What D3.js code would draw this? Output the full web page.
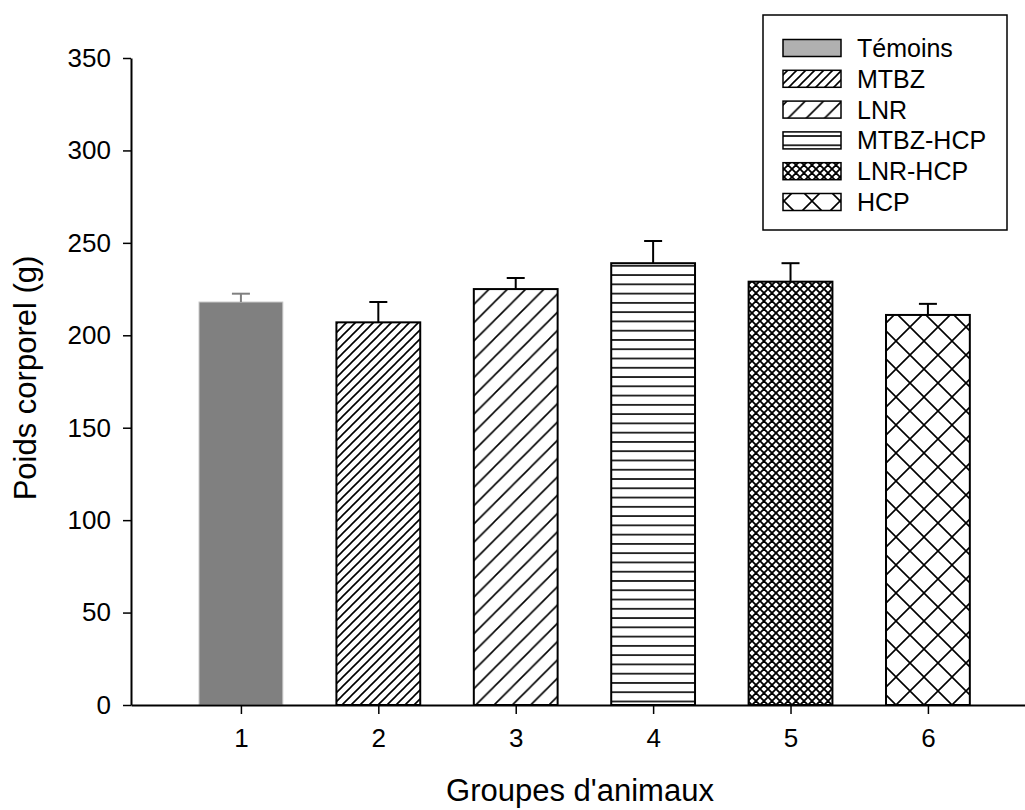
<!DOCTYPE html>
<html>
<head>
<meta charset="utf-8">
<script src="https://cdn.jsdelivr.net/npm/d3@7"></script>
<style>
  html, body { margin: 0; padding: 0; background: #fff; }
  svg { display: block; font-family: Arial, "Liberation Sans", sans-serif; }
</style>
</head>
<body>
<svg id="chart" width="1025" height="810"></svg>
<script>
// Body weight per animal group (mean and upper error)
const groups = [1, 2, 3, 4, 5, 6];
const groupNames = ["Témoins", "MTBZ", "LNR", "MTBZ-HCP", "LNR-HCP", "HCP"];
const meanWeight = [218, 207, 225, 239, 229, 211];
const errWeight = [4.5, 11, 6, 12, 10, 6];
const yTicks = [0, 50, 100, 150, 200, 250, 300, 350];

const svg = d3.select("#chart");

const x = d3.scaleLinear().domain([0.2, 6.8]).range([131, 131 + 6.6 * 137.4]);
const y = d3.scaleLinear().domain([0, 350]).range([705, 58]);
const barW = x(1.61) - x(1);

// Fill patterns, one per group
const defs = svg.append("defs");
function diagPattern(id, p, sw, cross) {
  const pat = defs.append("pattern").attr("id", id)
    .attr("patternUnits", "userSpaceOnUse").attr("width", p).attr("height", p)
    .attr("x", 0).attr("y", 705 % p);
  pat.append("rect").attr("width", p).attr("height", p).attr("fill", "#fff");
  let d = `M0,${p} L${p},0 M${-p/2},${p/2} L${p/2},${-p/2} M${p/2},${1.5*p} L${1.5*p},${p/2}`;
  if (cross) d += ` M0,0 L${p},${p} M${-p/2},${p/2} L${p/2},${1.5*p} M${p/2},${-p/2} L${1.5*p},${p/2}`;
  pat.append("path").attr("d", d).attr("stroke", "#000").attr("stroke-width", sw).attr("fill", "none");
}
function horizPattern(id, p, sw) {
  const pat = defs.append("pattern").attr("id", id)
    .attr("patternUnits", "userSpaceOnUse").attr("width", 20).attr("height", p)
    .attr("x", 0).attr("y", 1.6);
  pat.append("rect").attr("width", 20).attr("height", p).attr("fill", "#fff");
  pat.append("line").attr("x1", 0).attr("x2", 20).attr("y1", p / 2).attr("y2", p / 2)
    .attr("stroke", "#000").attr("stroke-width", sw);
}
diagPattern("pMTBZ", 9, 1.6, false);
diagPattern("pLNR", 18.3, 1.6, false);
horizPattern("pMH", 9.27, 1.6);
diagPattern("pLH", 8, 1.8, true);
diagPattern("pHCP", 28, 1.6, true);

const fills = ["#808080", "url(#pMTBZ)", "url(#pLNR)", "url(#pMH)", "url(#pLH)", "url(#pHCP)"];
const legendFills = ["#b0b0b0"].concat(fills.slice(1));
const strokes = ["#c8c8c8", "#000", "#000", "#000", "#000", "#000"];
const errColors = ["#808080", "#000", "#000", "#000", "#000", "#000"];

// Bars
svg.append("g").selectAll("rect").data(groups).join("rect")
  .attr("x", (d) => x(d) - barW / 2)
  .attr("y", (d, i) => y(meanWeight[i]))
  .attr("width", barW)
  .attr("height", (d, i) => y(0) - y(meanWeight[i]))
  .attr("fill", (d, i) => fills[i])
  .attr("stroke", (d, i) => strokes[i])
  .attr("stroke-width", (d, i) => i === 0 ? 1 : 2);

// Upper error bars
const eb = svg.append("g").selectAll("g").data(groups).join("g")
  .attr("stroke", (d, i) => errColors[i]).attr("stroke-width", 2);
eb.append("line")
  .attr("x1", (d) => x(d)).attr("x2", (d) => x(d))
  .attr("y1", (d, i) => y(meanWeight[i]))
  .attr("y2", (d, i) => y(meanWeight[i] + errWeight[i]));
eb.append("line")
  .attr("x1", (d) => x(d) - 9).attr("x2", (d) => x(d) + 9)
  .attr("y1", (d, i) => y(meanWeight[i] + errWeight[i]))
  .attr("y2", (d, i) => y(meanWeight[i] + errWeight[i]));

// Axes
const yAxis = svg.append("g").attr("transform", `translate(${x(0.2)},0)`)
  .call(d3.axisLeft(y).tickValues(yTicks).tickSize(8).tickPadding(12).tickSizeOuter(0));
const xAxis = svg.append("g").attr("transform", `translate(0,${y(0)})`)
  .call(d3.axisBottom(x).tickValues(groups).tickFormat(d3.format("d")).tickSize(9).tickPadding(15).tickSizeOuter(0));
[yAxis, xAxis].forEach((g) => {
  g.selectAll("path.domain").attr("stroke", "#000").attr("stroke-width", 2);
  g.selectAll(".tick line").attr("stroke", "#000").attr("stroke-width", 1.5);
  g.selectAll("text").attr("fill", "#000").attr("font-size", 26)
    .attr("font-family", "Arial, 'Liberation Sans', sans-serif");
});

// Axis titles
svg.append("text").attr("x", 580).attr("y", 801)
  .attr("text-anchor", "middle").attr("font-size", 31).attr("fill", "#000")
  .text("Groupes d'animaux");
svg.append("text").attr("transform", `translate(36,378) rotate(-90)`)
  .attr("text-anchor", "middle").attr("font-size", 31).attr("fill", "#000")
  .text("Poids corporel (g)");

// Legend
const lg = svg.append("g");
lg.append("rect").attr("x", 763).attr("y", 15).attr("width", 244).attr("height", 215)
  .attr("fill", "#fff").attr("stroke", "#000").attr("stroke-width", 1.5);
const rowY = (i) => 48 + i * 30.8;
const items = lg.selectAll("g.item").data(groupNames).join("g").attr("class", "item");
items.append("rect").attr("x", 783).attr("y", (d, i) => rowY(i) - 8.5)
  .attr("width", 58).attr("height", 17)
  .attr("fill", (d, i) => legendFills[i])
  .attr("stroke", "#000").attr("stroke-width", 1.5);
items.append("text").attr("x", 857).attr("y", (d, i) => rowY(i) + 9)
  .attr("font-size", 25).attr("fill", "#000").text((d) => d);
</script>
</body>
</html>
